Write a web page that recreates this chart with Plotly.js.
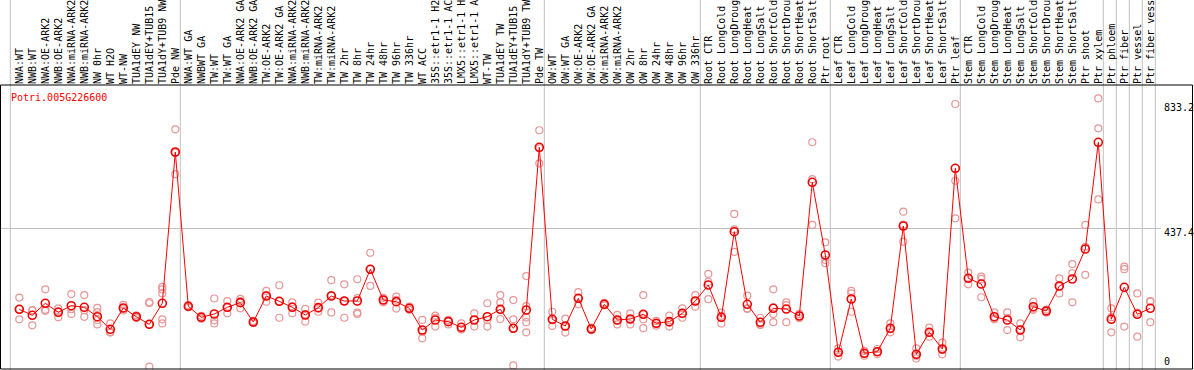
<!DOCTYPE html>
<html><head><meta charset="utf-8">
<script src="https://cdn.plot.ly/plotly-3.0.1.min.js"></script>
<style>html,body{margin:0;padding:0;background:#fff;overflow:hidden;} #chart{width:1194px;height:370px;}</style>
</head><body><div id="chart"></div>
<script>
const geneId = "Potri.005G226600";

const categories = [
  "NWA:WT","NWB:WT","NWA:OE-ARK2","NWB:OE-ARK2","NWA:miRNA-ARK2","NWB:miRNA-ARK2","NW 0hr","WT H2O","WT-NW","TUA1dEY NW","TUA1dEY+TUB15 NW","TUA1dY+TUB9 NW","Pde NW",
  "NWA:WT GA","NWBWT GA","TW:WT","TW:WT GA","NWA:OE-ARK2 GA","NWB:OE-ARK2 GA","TW:OE-ARK2","TW:OE-ARK2 GA","NWA:miRNA-ARK2 GA","NWB:miRNA-ARK2 GA","TW:miRNA-ARK2","TW:miRNA-ARK2 GA","TW 2hr","TW 8hr","TW 24hr","TW 48hr","TW 96hr","TW 336hr","WT ACC","35S::etr1-1 H2O","35S::etr1-1 ACC","LMX5::etr1-1 H2O","LMX5::etr1-1 ACC","WT-TW","TUA1dEY TW","TUA1dEY+TUB15 TW","TUA1dY+TUB9 TW","Pde TW",
  "OW:WT","OW:WT GA","OW:OE-ARK2","OW:OE-ARK2 GA","OW:miRNA-ARK2","OW:miRNA-ARK2 GA","OW 2hr","OW 8hr","OW 24hr","OW 48hr","OW 96hr","OW 336hr",
  "Root CTR","Root LongCold","Root LongDrought","Root LongHeat","Root LongSalt","Root ShortCold","Root ShortDrought","Root ShortHeat","Root ShortSalt","Ptr root",
  "Leaf CTR","Leaf LongCold","Leaf LongDrought","Leaf LongHeat","Leaf LongSalt","Leaf ShortCold","Leaf ShortDrought","Leaf ShortHeat","Leaf ShortSalt","Ptr leaf",
  "Stem CTR","Stem LongCold","Stem LongDrought","Stem LongHeat","Stem LongSalt","Stem ShortCold","Stem ShortDrought","Stem ShortHeat","Stem ShortSalt","Ptr shoot","Ptr xylem",
  "Ptr phloem","Ptr fiber","Ptr vessel","Ptr fiber vessel"
];

const means = [
  182.8,163.8,201.8,173.3,194.2,189.1,159.4,119.4,186.9,159.4,135.2,201.8,681.1,
  192.3,157.4,167.9,189.1,203.8,142.6,224.9,208.1,189.1,164.7,188.0,224.9,209.1,209.1,309.5,212.3,207.0,186.0,117.2,148.9,143.6,125.7,148.9,159.4,182.8,122.6,180.6,696.0,
  151.1,129.9,217.6,120.4,198.6,148.9,152.1,167.0,138.4,143.6,170.1,209.1,
  259.8,157.4,428.7,198.6,141.6,186.0,183.7,161.6,585.1,354.8,
  46.5,215.4,43.4,48.5,122.6,446.7,40.2,109.9,57.0,629.5,
  281.0,262.9,159.4,148.9,117.2,191.0,177.4,256.6,278.8,373.8,711.9,
  151.1,252.5,167.0,186.0
];

const replicates = [
  [220,183,151],[180,179,132],[246,181,178],[186,176,158],[231,183,168],[228,180,159],[187,174,149,135],[138,111,109],[197,185,179],[164,160,155],[206,202,135,1],[254,246,233,151,138],[753,679,611],
  [196,192,189],[162,157,153],[217,148,138],[209,188,170],[216,209,186],[146,143,139],[241,227,207],[259,209,156],[205,192,170],[184,167,144],[204,185,175],[275,227,173],[262,209,156],[278,218,172,168],[362,310,257],[219,212,205],[223,213,185],[191,186,181],[149,112,91],[163,156,128],[149,147,135],[138,120,119],[170,149,128],[202,149,128],[228,205,181,152],[212,151,123,5],[288,193,157,142,110],[750,693,645],
  [175,148,130],[153,128,109],[237,218,199],[124,120,117],[203,198,195],[165,147,135],[170,151,135],[228,167,151,123],[146,138,131],[163,140,128],[186,168,156],[228,208,191],
  [295,270,215],[172,162,138],[485,436,365],[226,186,184],[156,135,133],[246,189,168,142],[205,196,142],[168,162,155],[712,595,450],[395,339,329],
  [59,48,33],[241,233,175],[51,43,36],[57,48,41],[138,120,110],[492,451,397],[59,35,27],[125,109,96],[77,54,40],[833.2,590,471],
  [299,282,262],[286,279,221],[173,154,151],[173,156,117],[138,119,94],[207,185,181],[182,177,172],[281,255,233],[326,297,205],[450,381,292],[851,756,531],
  [186,158,110],[318,310,128],[233,172,96],[209,207,142]
];

const groupEnds = [12, 40, 52, 62, 72, 83, 84, 85, 86, 87];
const yTickVals = [0, 437.4, 833.2];
const yTickText = ["0", "437.4", "833.2"];

// ---- geometry ----
const W = 1194, H = 370;
const M = {l: 0, r: 33, t: 85, b: 1};
const plotW = W - M.l - M.r;
const plotH = H - M.t - M.b;
const firstPx = 19.3, stepPx = 13;
const xRange = [(0 - firstPx) / stepPx, (plotW - firstPx) / stepPx];
const zeroPy = 367, topValPy = 104;
const unitPerPx = yTickVals[2] / (zeroPy - topValPy);
const yRange = [-(H - M.b - zeroPy) * unitPerPx, (zeroPy - M.t) * unitPerPx];

const idx = categories.map((_, i) => i);
const repX = [], repY = [];
replicates.forEach((arr, i) => arr.forEach(v => { repX.push(i); repY.push(v); }));

const FONT = "DejaVu Sans Mono, Liberation Mono, monospace";

const traces = [
  {
    x: repX, y: repY, type: "scatter", mode: "markers", hoverinfo: "skip",
    marker: {symbol: "circle-open", size: 7, color: "rgb(232,150,150)", line: {width: 1.2, color: "rgb(232,150,150)"}}
  },
  {
    x: idx, y: means, type: "scatter", mode: "lines+markers",
    line: {color: "#ff0000", width: 1},
    marker: {symbol: "circle-open", size: 8, color: "#ee0000", line: {width: 1.6, color: "#ee0000"}}
  }
];

const shapes = [];
const sepPositions = [-9 / stepPx].concat(groupEnds.map(e => e + 5 / stepPx));
sepPositions.forEach(xv => shapes.push({
  type: "line", xref: "x", yref: "paper", x0: xv, x1: xv, y0: -0.01, y1: 1.35,
  line: {color: "#c0c0c0", width: 1}, layer: "below"
}));
shapes.push({
  type: "rect", xref: "paper", yref: "paper",
  x0: 0.5 / plotW, x1: (W - 1.5) / plotW, y0: 0, y1: 1,
  line: {color: "#000", width: 1}, fillcolor: "rgba(0,0,0,0)", layer: "above"
});

const annotations = [{
  xref: "paper", yref: "paper", x: 9 / plotW, y: (H - M.b - 97) / plotH,
  xanchor: "left", yanchor: "middle", showarrow: false, text: geneId,
  font: {family: FONT, size: 10, color: "#ff0000"}
}];
yTickVals.forEach((v, i) => annotations.push({
  xref: "paper", yref: "y", x: 1162 / plotW, y: v,
  xanchor: "left", yanchor: v === 0 ? "bottom" : "top", yshift: v === 0 ? -2 : 4,
  showarrow: false, text: yTickText[i],
  font: {family: FONT, size: 10, color: "#000"}
}));

const layout = {
  width: W, height: H, margin: M,
  paper_bgcolor: "#fff", plot_bgcolor: "#fff",
  showlegend: false,
  xaxis: {
    range: xRange, side: "top", tickmode: "array", tickvals: idx, ticktext: categories,
    tickangle: -90, ticks: "", showgrid: false, zeroline: false, showline: false,
    automargin: false, tickfont: {family: FONT, size: 10, color: "#000"}
  },
  yaxis: {
    range: yRange, tickmode: "array", tickvals: [yTickVals[1]], showticklabels: false,
    showgrid: true, gridcolor: "#c0c0c0", gridwidth: 1, zeroline: false, showline: false,
    ticks: "", automargin: false
  },
  shapes: shapes, annotations: annotations
};

Plotly.newPlot("chart", traces, layout, {staticPlot: true, displayModeBar: false});
</script>
</body></html>
